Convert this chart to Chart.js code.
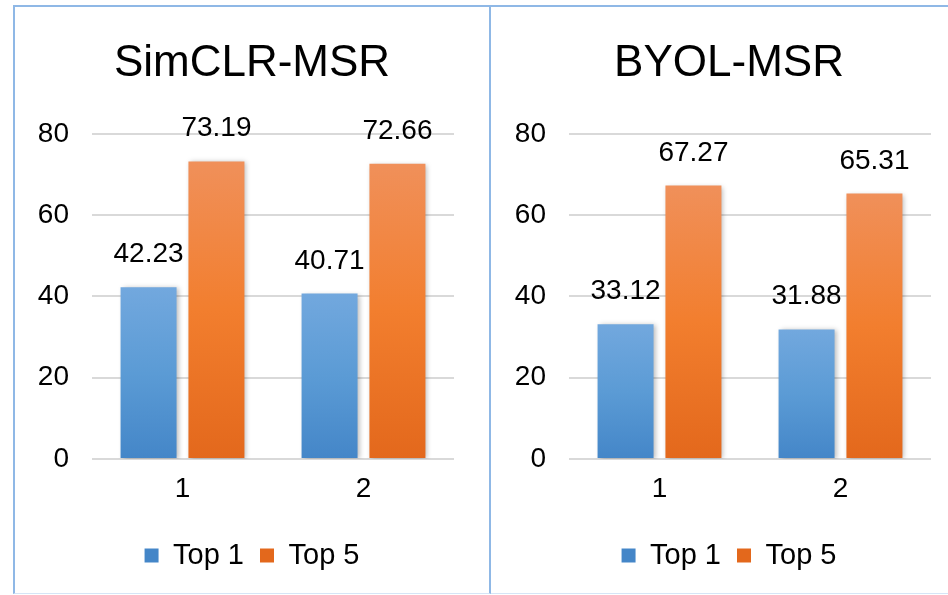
<!DOCTYPE html>
<html>
<head>
<meta charset="utf-8">
<script src="https://cdn.jsdelivr.net/npm/chart.js@4.4.1/dist/chart.umd.min.js"></script>
<style>
  html, body { margin: 0; padding: 0; background: #fff; }
  body { width: 948px; height: 595px; overflow: hidden; position: relative; }
  .panel { position: absolute; top: 5px; height: 589px; box-sizing: border-box;
           border-top: 2px solid #8fb8e6; border-bottom: 1px solid #d6e5f6; }
  #panelLeft { left: 13px; width: 478px; border-left: 2px solid #8fb8e6; border-right: 2px solid #8fb8e6; }
  #panelRight { left: 491px; width: 480px; }
  canvas { position: absolute; top: 7px; }
  #chartLeft { left: 15px; }
  #chartRight { left: 492px; }
</style>
</head>
<body>
<div class="panel" id="panelLeft"></div>
<div class="panel" id="panelRight"></div>
<canvas id="chartLeft" width="474" height="586"></canvas>
<canvas id="chartRight" width="474" height="586"></canvas>
<script>
// data
const categories = ['1', '2']
const seriesNames = ['Top 1', 'Top 5']
const chartTitles = ['SimCLR-MSR', 'BYOL-MSR']
const simclrTop1 = [42.23, 40.71]
const simclrTop5 = [73.19, 72.66]
const byolTop1 = [33.12, 31.88]
const byolTop5 = [67.27, 65.31]
const yMin = 0
const yMax = 80
const yStep = 20

const FONT = "'Liberation Sans', Arial, sans-serif"
const blueStops = ['#72a8de', '#5b9bd5', '#4486c8']
const orangeStops = ['#f0905a', '#f27e2e', '#e3681c']

// gradient per bar, light on top, darker at the bottom
function barFill(stops) {
    return ctx => {
        const chart = ctx.chart
        if (!chart.chartArea || ctx.type !== 'data') return stops[1]
        const y = chart.scales.y
        const yTop = y.getPixelForValue(ctx.raw)
        const yBot = y.getPixelForValue(0)
        const g = chart.ctx.createLinearGradient(0, yTop, 0, yBot)
        g.addColorStop(0, stops[0])
        g.addColorStop(0.5, stops[1])
        g.addColorStop(1, stops[2])
        return g
    }
}

// soft shadow under the bars + value labels above them
const barExtras = {
    id: 'barExtras',
    beforeDatasetsDraw(chart) {
        const c = chart.ctx
        c.save()
        c.shadowColor = 'rgba(0,0,0,0.28)'
        c.shadowBlur = 5
        c.shadowOffsetX = 2
        c.shadowOffsetY = 1
    },
    afterDatasetsDraw(chart) {
        const c = chart.ctx
        c.restore()
        c.save()
        c.font = '28px ' + FONT
        c.fillStyle = '#000'
        c.textAlign = 'center'
        c.textBaseline = 'alphabetic'
        chart.data.datasets.forEach((ds, i) => {
            chart.getDatasetMeta(i).data.forEach((bar, j) => {
                c.fillText(ds.data[j].toFixed(2), bar.x, bar.y - 25)
            })
        })
        c.restore()
    }
}

function makeChart(canvasId, title, top1, top5) {
    return new Chart(document.getElementById(canvasId), {
        type: 'bar',
        data: {
            labels: categories,
            datasets: [
                { label: seriesNames[0], data: top1, backgroundColor: barFill(blueStops),
                  categoryPercentage: 0.75, barPercentage: 0.825 },
                { label: seriesNames[1], data: top5, backgroundColor: barFill(orangeStops),
                  categoryPercentage: 0.75, barPercentage: 0.825 }
            ]
        },
        options: {
            responsive: false,
            animation: false,
            devicePixelRatio: 1,
            layout: { padding: { left: 0, right: 0, top: 0, bottom: 13 } },
            plugins: {
                title: {
                    display: true,
                    text: title,
                    color: '#000',
                    font: { family: FONT, size: 44, weight: 'normal' },
                    padding: { top: 30, bottom: 44 }
                },
                legend: {
                    position: 'bottom',
                    labels: {
                        color: '#000',
                        font: { family: FONT, size: 29 },
                        boxWidth: 14,
                        boxHeight: 14,
                        padding: 16
                    }
                },
                tooltip: { enabled: false }
            },
            scales: {
                x: {
                    grid: { display: false },
                    border: { display: false },
                    ticks: { color: '#000', font: { family: FONT, size: 28 }, padding: 5 },
                    afterFit: s => { s.height = 66 }
                },
                y: {
                    min: yMin,
                    max: yMax,
                    grid: { color: '#d9d9d9', lineWidth: 2, drawTicks: false },
                    border: { display: false },
                    ticks: { stepSize: yStep, color: '#000', font: { family: FONT, size: 28 }, padding: 23 },
                    afterFit: s => { s.width = 77 }
                },
                yRight: {
                    position: 'right',
                    display: true,
                    grid: { display: false },
                    border: { display: false },
                    ticks: { display: false },
                    afterFit: s => { s.width = 35 }
                }
            }
        },
        plugins: [barExtras]
    })
}

makeChart('chartLeft', chartTitles[0], simclrTop1, simclrTop5)
makeChart('chartRight', chartTitles[1], byolTop1, byolTop5)
</script>
</body>
</html>
